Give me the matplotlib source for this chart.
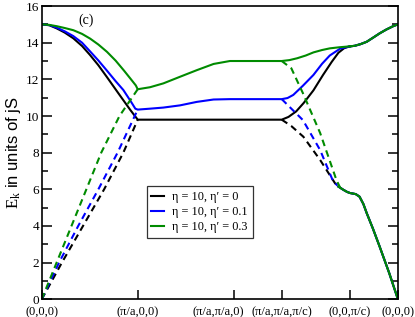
import matplotlib
matplotlib.use("Agg")
import matplotlib.pyplot as plt
from matplotlib.ticker import MultipleLocator

plt.rcParams['font.family'] = ['Liberation Serif', 'DejaVu Serif']
plt.rcParams['mathtext.fontset'] = 'custom'
plt.rcParams['mathtext.rm'] = 'Liberation Serif'

# path positions of the high-symmetry points
tick_pos = [0, 1, 2, 2.5, 3.21, 3.71]
tick_labels = ['(0,0,0)', '(\u03c0/a,0,0)', '(\u03c0/a,\u03c0/a,0)',
               '(\u03c0/a,\u03c0/a,\u03c0/c)', '(0,0,\u03c0/c)', '(0,0,0)']

labels = ['\u03b7 = 10, \u03b7\u2032 = 0', '\u03b7 = 10, \u03b7\u2032 = 0.1',
          '\u03b7 = 10, \u03b7\u2032 = 0.3']
colors = ['black', '#0000ff', '#008b00']

# upper solid branch, Gamma -> Z
k_up_0 = [0, 0.08, 0.156, 0.24, 0.329, 0.42, 0.503, 0.59, 0.677, 0.8, 0.92, 1.0,
          1.5, 2.0, 2.5, 2.57, 2.65, 2.73, 2.83, 2.93, 3.02, 3.09, 3.15, 3.21]
E_up_0 = [15.0, 14.95, 14.78, 14.55, 14.24, 13.82, 13.33, 12.77, 12.14, 11.23, 10.35, 9.8,
          9.8, 9.8, 9.8, 9.95, 10.25, 10.72, 11.4, 12.24, 12.95, 13.45, 13.7, 13.8]

k_up_1 = [0, 0.08, 0.156, 0.24, 0.329, 0.42, 0.503, 0.59, 0.677, 0.77, 0.85, 0.93, 0.975, 1.0,
          1.128, 1.267, 1.44, 1.615, 1.79, 1.96, 2.2, 2.5,
          2.56, 2.62, 2.72, 2.83, 2.92, 3.0, 3.11, 3.21]
E_up_1 = [15.0, 14.96, 14.82, 14.62, 14.36, 14.0, 13.53, 13.03, 12.49, 11.9, 11.42, 10.78, 10.4, 10.35,
          10.4, 10.46, 10.58, 10.77, 10.9, 10.92, 10.92, 10.92,
          10.98, 11.15, 11.65, 12.24, 12.85, 13.3, 13.68, 13.8]

k_up_3 = [0, 0.08, 0.156, 0.24, 0.33, 0.42, 0.505, 0.59, 0.68, 0.77, 0.855, 0.93, 0.98, 1.0,
          1.128, 1.267, 1.44, 1.615, 1.79, 1.96, 2.2, 2.5,
          2.58, 2.66, 2.75, 2.83, 2.92, 3.0, 3.1, 3.21]
E_up_3 = [15.0, 14.97, 14.9, 14.8, 14.68, 14.48, 14.22, 13.9, 13.5, 13.02, 12.49, 12.0, 11.67, 11.46,
          11.57, 11.78, 12.14, 12.5, 12.84, 13.0, 13.0, 13.0,
          13.05, 13.15, 13.3, 13.47, 13.6, 13.69, 13.75, 13.8]

# shared part Z -> Gamma (upper)
k_up_tail = [3.21, 3.26, 3.32, 3.385, 3.45, 3.52, 3.59, 3.66, 3.71]
E_up_tail = [13.8, 13.83, 13.92, 14.05, 14.27, 14.51, 14.72, 14.9, 15.0]

# dashed branch Gamma -> X
k_dl_0 = [0, 0.21, 0.43, 0.65, 0.85, 1.0]
E_dl_0 = [0, 2, 4, 6, 8, 9.8]
k_dl_1 = [0, 0.18, 0.38, 0.59, 0.79, 1.0]
E_dl_1 = [0, 2, 4, 6, 8, 10.35]
k_dl_3 = [0, 0.155, 0.31, 0.465, 0.62, 0.81, 1.0]
E_dl_3 = [0, 2, 4, 6, 8, 10, 11.46]

# dashed branch A -> Z
k_dr_0 = [2.5, 2.6, 2.725, 2.9, 3.055, 3.09]
E_dr_0 = [9.8, 9.45, 8.87, 7.6, 6.33, 6.15]
k_dr_1 = [2.5, 2.6, 2.72, 2.9, 3.03, 3.08]
E_dr_1 = [10.92, 10.4, 9.78, 8.14, 6.5, 6.2]
k_dr_3 = [2.5, 2.6, 2.72, 2.9, 3.07, 3.11]
E_dr_3 = [13.0, 12.6, 11.25, 9.07, 6.5, 6.07]

# shared lower part -> Gamma
k_lo_tail = [3.09, 3.14, 3.18, 3.21, 3.27, 3.31, 3.35, 3.385, 3.45, 3.52, 3.62, 3.71]
E_lo_tail = [6.15, 5.98, 5.86, 5.8, 5.74, 5.6, 5.2, 4.7, 3.85, 2.87, 1.42, 0.0]

upper = [(k_up_0, E_up_0), (k_up_1, E_up_1), (k_up_3, E_up_3)]
dash_left = [(k_dl_0, E_dl_0), (k_dl_1, E_dl_1), (k_dl_3, E_dl_3)]
dash_right = [(k_dr_0, E_dr_0), (k_dr_1, E_dr_1), (k_dr_3, E_dr_3)]

fig = plt.figure(figsize=(4.15, 3.17), dpi=100)
ax = fig.add_axes([0.1005, 0.0558, 0.8593, 0.9252])

lw = 1.5
dash = (0, (3.2, 2.2))
handles = []
for i in range(3):
    c = colors[i]
    h, = ax.plot(upper[i][0], upper[i][1], color=c, lw=lw, label=labels[i])
    handles.append(h)
    ax.plot(k_up_tail, E_up_tail, color=c, lw=lw)
    ax.plot(dash_left[i][0], dash_left[i][1], color=c, lw=lw, linestyle=dash)
    ax.plot(dash_right[i][0], dash_right[i][1], color=c, lw=lw, linestyle=dash)
    ax.plot(k_lo_tail, E_lo_tail, color=c, lw=lw)

ax.set_xlim(0, 3.714)
ax.set_ylim(0, 16)
ax.set_xticks(tick_pos)
# the (pi/a,pi/a,0) label sits left of its tick in the original, so draw it apart
shown = list(tick_labels)
shown[2] = ''
ax.set_xticklabels(shown, fontsize=9)
ax.annotate(tick_labels[2], xy=(tick_pos[2], 0), xycoords=('data', 'axes fraction'),
            xytext=(-11.5, -5), textcoords='offset points', ha='center', va='top',
            fontsize=9)

ax.yaxis.set_major_locator(MultipleLocator(2))
ax.yaxis.set_minor_locator(MultipleLocator(1))
ax.tick_params(axis='y', which='both', direction='in', left=True, right=True,
               labelsize=9.5, width=1.1, pad=2)
ax.tick_params(axis='y', which='major', length=7)
ax.tick_params(axis='y', which='minor', length=4.5)
ax.tick_params(axis='x', direction='in', top=False, length=6.5, width=1.1, pad=5)
for s in ax.spines.values():
    s.set_linewidth(1.2)

ax.set_ylabel(r'$\mathrm{E_k}$ in units of jS', fontfamily='Liberation Sans',
              fontsize=12, labelpad=2)
ax.text(0.123, 0.952, '(c)', transform=ax.transAxes, fontsize=10,
        ha='center', va='center')

leg = ax.legend(handles=handles, loc='upper left', bbox_to_anchor=(0.294, 0.386),
                borderaxespad=0, fontsize=8.8, frameon=True, fancybox=False,
                edgecolor='black', handlelength=1.0, handletextpad=0.7,
                labelspacing=0.25, borderpad=0.4)
leg.get_frame().set_linewidth(0.9)

fig.savefig('out.png', dpi=100)
